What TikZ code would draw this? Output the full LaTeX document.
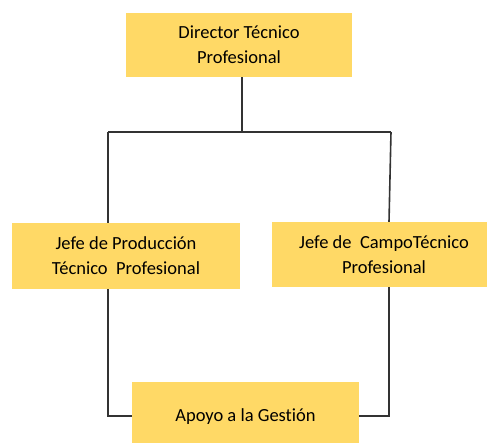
\documentclass[tikz,border=0pt]{standalone}
\usepackage{fontspec}
\setmainfont{Carlito}[Ligatures=NoCommon]
\definecolor{boxfill}{HTML}{FFD966}
\definecolor{linec}{HTML}{333333}
\begin{document}
\begin{tikzpicture}[x=1pt,y=-1pt,
  orgbox/.style={fill=boxfill,draw=none,align=center,font=\fontsize{18.5}{25}\selectfont,inner sep=0pt},
  conn/.style={draw=linec,line width=1.6pt}]
\useasboundingbox (0,0) rectangle (487,443);
\begin{scope}
\clip (0,0) rectangle (487,443);
\node[orgbox,minimum width=226pt,minimum height=64pt] (dir) at (239,45) {Director Técnico\\Profesional};
\node[orgbox,minimum width=228pt,minimum height=66pt] (prod) at (126,256) {Jefe de Producción\\Técnico\ \ Profesional};
\node[orgbox,minimum width=224pt,minimum height=65pt] (campo) at (384,254.5) {Jefe de\ \ CampoTécnico\\Profesional};
\node[orgbox,minimum width=227pt,minimum height=70pt] (apoyo) at (245.5,417) {Apoyo a la Gestión};
\end{scope}
\coordinate (bus) at (242,132);
\coordinate (busl) at (108,132);
\coordinate (busr) at (391,132);
\coordinate (bl) at (108,416);
\coordinate (br) at (389,416);
\draw[conn] (dir.south -| bus) -- (bus);
\draw[conn] (busl) -- (busr);
\draw[conn] (busl) -- (busl |- prod.north);
\draw[conn] (busr) -- (389,0 |- campo.north);
\draw[conn] (bl |- prod.south) -- (bl) -- (apoyo.west |- bl);
\draw[conn] (br |- campo.south) -- (br) -- (apoyo.east |- br);
\end{tikzpicture}
\end{document}
